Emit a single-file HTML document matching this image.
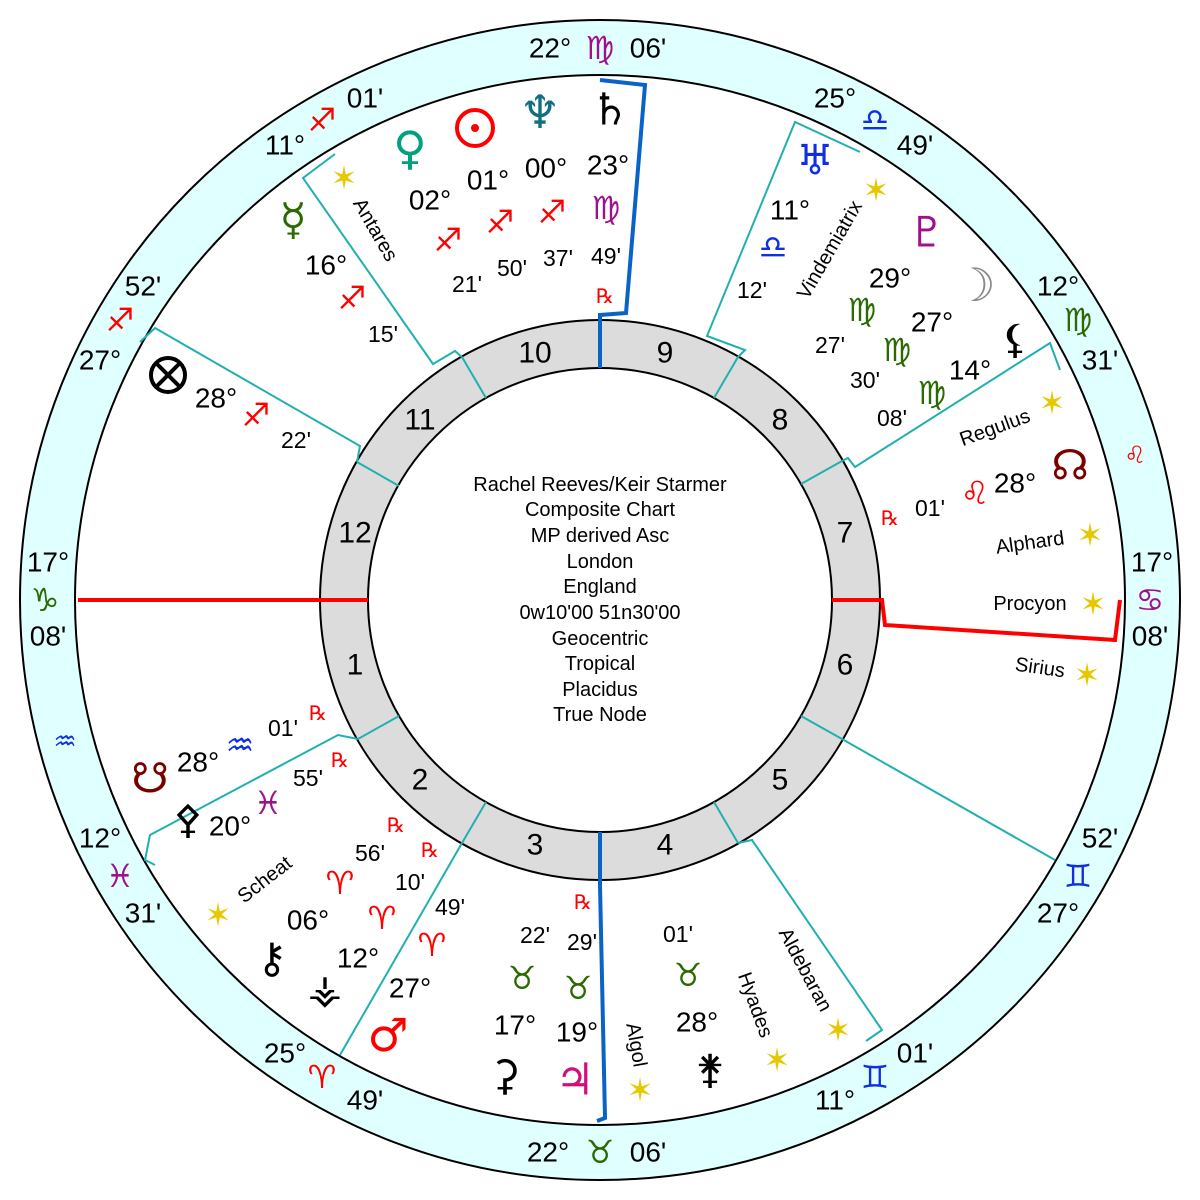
<!DOCTYPE html>
<html><head><meta charset="utf-8"><style>
html,body{margin:0;padding:0;background:#fff;width:1200px;height:1200px;overflow:hidden}
svg{display:block}
text{font-family:"Liberation Sans","DejaVu Sans",sans-serif;text-anchor:middle;dominant-baseline:central}
.d{font-size:28px;fill:#000}
.m{font-size:23px;fill:#000}
.g{font-family:"DejaVu Sans",sans-serif}
.z{font-size:32px}
.rx{font-size:20px;fill:#f00;font-family:"DejaVu Sans",sans-serif}
.st{font-size:20px;fill:#000}
.c{font-size:20px;fill:#000}
.h{font-size:30px;fill:#000}
.star{font-family:"DejaVu Sans",sans-serif;font-size:32px;fill:#e6c800}
</style></head><body>
<svg width="1200" height="1200" viewBox="0 0 1200 1200" xmlns="http://www.w3.org/2000/svg">
<circle cx="600" cy="600" r="580" fill="#e0ffff" stroke="#000" stroke-width="2"/>
<circle cx="600" cy="600" r="525" fill="#fff" stroke="#000" stroke-width="2"/>
<circle cx="600" cy="600" r="280" fill="#dcdcdc" stroke="#000" stroke-width="2"/>
<circle cx="600" cy="600" r="232" fill="#fff" stroke="#000" stroke-width="2"/>
<g stroke="#20b0b0" stroke-width="2" fill="none">
<line x1="462" y1="357" x2="486" y2="398"/>
<line x1="357" y1="462" x2="399" y2="486"/>
<line x1="358" y1="739" x2="399" y2="716"/>
<line x1="462" y1="843" x2="486" y2="802"/>
<line x1="738" y1="843" x2="714" y2="802"/>
<line x1="842" y1="739" x2="801" y2="716"/>
<line x1="842" y1="461" x2="801" y2="484"/>
<line x1="738" y1="357" x2="714" y2="398"/>
<polyline points="462,357 455,351 433,364 303,178 335,154"/>
<polyline points="357,462 360,446 155,328 140,342"/>
<polyline points="358,739 338,735 150,835 145,860 155,865"/>
<polyline points="462,843 340,1055"/>
<polyline points="738,843 752,840 882,1030 866,1041"/>
<polyline points="842,739 1055,860"/>
<polyline points="842,461 848,458 855,467 1050,343 1060,370"/>
<polyline points="738,357 745,350 707,336 795,122 860,152"/>
</g>
<polyline points="600,368 600,315 626,313 645,85 600,80" stroke="#0a64c8" stroke-width="4" fill="none"/>
<polyline points="600,832 600,885 605,1118 597,1121" stroke="#0a64c8" stroke-width="4" fill="none"/>
<line x1="78" y1="600" x2="368" y2="600" stroke="#f00" stroke-width="4"/>
<polyline points="832,600 882,600 885,625 1115,640 1120,600" stroke="#f00" stroke-width="4" fill="none"/>
<g class="h">
<text x="535" y="353" class="h">10</text><text x="665" y="353" class="h">9</text>
<text x="420" y="420" class="h">11</text><text x="780" y="420" class="h">8</text>
<text x="355" y="533" class="h">12</text><text x="845" y="533" class="h">7</text>
<text x="355" y="665" class="h">1</text><text x="845" y="665" class="h">6</text>
<text x="420" y="780" class="h">2</text><text x="780" y="780" class="h">5</text>
<text x="535" y="845" class="h">3</text><text x="665" y="845" class="h">4</text>
</g>
<text x="600" y="485" class="c">Rachel Reeves/Keir Starmer</text>
<text x="600" y="510" class="c">Composite Chart</text>
<text x="600" y="536" class="c">MP derived Asc</text>
<text x="600" y="562" class="c">London</text>
<text x="600" y="587" class="c">England</text>
<text x="600" y="613" class="c">0w10'00 51n30'00</text>
<text x="600" y="639" class="c">Geocentric</text>
<text x="600" y="664" class="c">Tropical</text>
<text x="600" y="690" class="c">Placidus</text>
<text x="600" y="715" class="c">True Node</text>
<text x="550" y="48" class="d">22°</text><text x="600" y="48" class="g z" fill="#a0108c">♍</text><text x="648" y="48" class="d">06'</text>
<text x="548" y="1152" class="d">22°</text><text x="600" y="1152" class="g z" fill="#2a6a00">♉</text><text x="648" y="1152" class="d">06'</text>
<text x="48" y="562" class="d">17°</text><text x="45" y="600" class="g z" fill="#2a6a00">♑</text><text x="48" y="636" class="d">08'</text>
<text x="1152" y="562" class="d">17°</text><text x="1150" y="600" class="g z" fill="#a0108c">♋</text><text x="1150" y="636" class="d">08'</text>
<text x="835" y="98" class="d">25°</text><text x="875" y="120" class="g z" fill="#1030e0">♎</text><text x="915" y="145" class="d">49'</text>
<text x="1058" y="286" class="d">12°</text><text x="1078" y="320" class="g z" fill="#2a6a00">♍</text><text x="1100" y="360" class="d">31'</text>
<text x="1135" y="455" class="g" font-size="24" fill="#f00">♌</text>
<text x="1100" y="838" class="d">52'</text><text x="1078" y="876" class="g z" fill="#1030e0">♊</text><text x="1058" y="913" class="d">27°</text>
<text x="915" y="1053" class="d">01'</text><text x="875" y="1077" class="g z" fill="#1030e0">♊</text><text x="835" y="1100" class="d">11°</text>
<text x="285" y="1053" class="d">25°</text><text x="322" y="1077" class="g z" fill="#f00">♈</text><text x="365" y="1100" class="d">49'</text>
<text x="100" y="838" class="d">12°</text><text x="120" y="876" class="g z" fill="#a0108c">♓</text><text x="143" y="913" class="d">31'</text>
<text x="65" y="742" class="g" font-size="26" fill="#1030e0">♒</text>
<text x="285" y="145" class="d">11°</text><text x="322" y="120" class="g z" fill="#f00">♐</text><text x="365" y="98" class="d">01'</text>
<text x="143" y="286" class="d">52'</text><text x="120" y="320" class="g z" fill="#f00">♐</text><text x="100" y="360" class="d">27°</text>
<text x="410" y="148" class="g" font-size="46" fill="#00a080">♀</text>
<circle cx="475" cy="128" r="18" fill="none" stroke="#f00" stroke-width="4"/><circle cx="475" cy="128" r="4" fill="#f00"/>
<text x="540" y="112" class="g" font-size="46" fill="#107080">♆</text>
<text x="610" y="110" class="g" font-size="44" fill="#000">♄</text>
<text x="430" y="200" class="d">02°</text><text x="488" y="180" class="d">01°</text><text x="546" y="168" class="d">00°</text><text x="608" y="165" class="d">23°</text>
<text x="448" y="240" class="g z" fill="#f00">♐</text><text x="500" y="222" class="g z" fill="#f00">♐</text><text x="552" y="212" class="g z" fill="#f00">♐</text><text x="606" y="208" class="g z" fill="#a0108c">♍</text>
<text x="467" y="284" class="m">21'</text><text x="512" y="268" class="m">50'</text><text x="558" y="258" class="m">37'</text><text x="606" y="256" class="m">49'</text>
<text x="605" y="296" class="rx">℞</text>
<text x="293" y="220" class="g" font-size="44" fill="#2a6a00">☿</text>
<text x="326" y="265" class="d">16°</text><text x="352" y="298" class="g z" fill="#f00">♐</text><text x="383" y="334" class="m">15'</text>
<text x="375" y="230" class="st" transform="rotate(60 375 230)">Antares</text><text x="344" y="178" class="star">✶</text>
<circle cx="168" cy="375" r="17" fill="none" stroke="#000" stroke-width="4"/><line x1="156" y1="363" x2="180" y2="387" stroke="#000" stroke-width="4"/><line x1="180" y1="363" x2="156" y2="387" stroke="#000" stroke-width="4"/>
<text x="216" y="398" class="d">28°</text><text x="256" y="415" class="g z" fill="#f00">♐</text><text x="296" y="440" class="m">22'</text>
<text x="815" y="160" class="g" font-size="42" fill="#1030e0">♅</text>
<text x="790" y="210" class="d">11°</text><text x="773" y="247" class="g z" fill="#1030e0">♎</text><text x="752" y="290" class="m">12'</text>
<text x="830" y="250" class="st" transform="rotate(-60 830 250)">Vindemiatrix</text><text x="876" y="190" class="star">✶</text>
<text x="927" y="232" class="g" font-size="42" fill="#a0108c">♇</text>
<text x="890" y="278" class="d">29°</text><text x="862" y="310" class="g z" fill="#2a6a00">♍</text><text x="830" y="345" class="m">27'</text>
<text x="975" y="285" class="g" font-size="46" fill="#888">☽</text>
<text x="932" y="322" class="d">27°</text><text x="897" y="350" class="g z" fill="#2a6a00">♍</text><text x="865" y="380" class="m">30'</text>
<text x="1015" y="340" class="g" font-size="40" fill="#000">⚸</text>
<text x="970" y="370" class="d">14°</text><text x="932" y="393" class="g z" fill="#2a6a00">♍</text><text x="892" y="418" class="m">08'</text>
<text x="995" y="428" class="st" transform="rotate(-20 995 428)">Regulus</text><text x="1052" y="403" class="star">✶</text>
<text x="1070" y="465" class="g" font-size="42" fill="#7a0000">☊</text>
<text x="1015" y="483" class="d">28°</text><text x="975" y="493" class="g z" fill="#f00">♌</text><text x="930" y="508" class="m">01'</text><text x="890" y="518" class="rx">℞</text>
<text x="1030" y="543" class="st" transform="rotate(-8 1030 543)">Alphard</text><text x="1090" y="535" class="star">✶</text>
<text x="1030" y="604" class="st">Procyon</text><text x="1093" y="604" class="star">✶</text>
<text x="1040" y="668" class="st" transform="rotate(8 1040 668)">Sirius</text><text x="1087" y="675" class="star">✶</text>
<text x="150" y="778" class="g" font-size="42" fill="#7a0000">☋</text>
<text x="198" y="762" class="d">28°</text><text x="240" y="745" class="g z" fill="#1030e0">♒</text><text x="283" y="728" class="m">01'</text><text x="318" y="713" class="rx">℞</text>
<text x="188" y="820" class="g" font-size="40" fill="#000">⚴</text>
<text x="230" y="826" class="d">20°</text><text x="268" y="803" class="g z" fill="#a0108c">♓</text><text x="308" y="778" class="m">55'</text><text x="340" y="760" class="rx">℞</text>
<text x="265" y="880" class="st" transform="rotate(-38 265 880)">Scheat</text><text x="218" y="915" class="star">✶</text>
<text x="272" y="958" class="g" font-size="42" fill="#000">⚷</text>
<text x="308" y="920" class="d">06°</text><text x="340" y="883" class="g z" fill="#f00">♈</text><text x="370" y="853" class="m">56'</text><text x="396" y="825" class="rx">℞</text>
<text x="325" y="990" class="g" font-size="40" fill="#000">⚶</text>
<text x="358" y="958" class="d">12°</text><text x="382" y="918" class="g z" fill="#f00">♈</text><text x="410" y="882" class="m">10'</text><text x="430" y="850" class="rx">℞</text>
<text x="388" y="1035" class="g" font-size="46" fill="#f00">♂</text>
<text x="410" y="988" class="d">27°</text><text x="432" y="945" class="g z" fill="#f00">♈</text><text x="450" y="907" class="m">49'</text>
<text x="505" y="1075" class="g" font-size="42" fill="#000">⚳</text>
<text x="515" y="1025" class="d">17°</text><text x="522" y="978" class="g z" fill="#2a6a00">♉</text><text x="535" y="935" class="m">22'</text>
<text x="575" y="1080" class="g" font-size="44" fill="#d01078">♃</text>
<text x="577" y="1032" class="d">19°</text><text x="578" y="988" class="g z" fill="#2a6a00">♉</text><text x="582" y="942" class="m">29'</text><text x="583" y="902" class="rx">℞</text>
<text x="636" y="1045" class="st" transform="rotate(80 636 1045)">Algol</text><text x="640" y="1090" class="star">✶</text>
<text x="710" y="1070" class="g" font-size="40" fill="#000">⚵</text>
<text x="697" y="1022" class="d">28°</text><text x="688" y="975" class="g z" fill="#2a6a00">♉</text><text x="678" y="934" class="m">01'</text>
<text x="755" y="1005" class="st" transform="rotate(70 755 1005)">Hyades</text><text x="777" y="1060" class="star">✶</text>
<text x="805" y="970" class="st" transform="rotate(62 805 970)">Aldebaran</text><text x="838" y="1030" class="star">✶</text>
</svg>
</body></html>
